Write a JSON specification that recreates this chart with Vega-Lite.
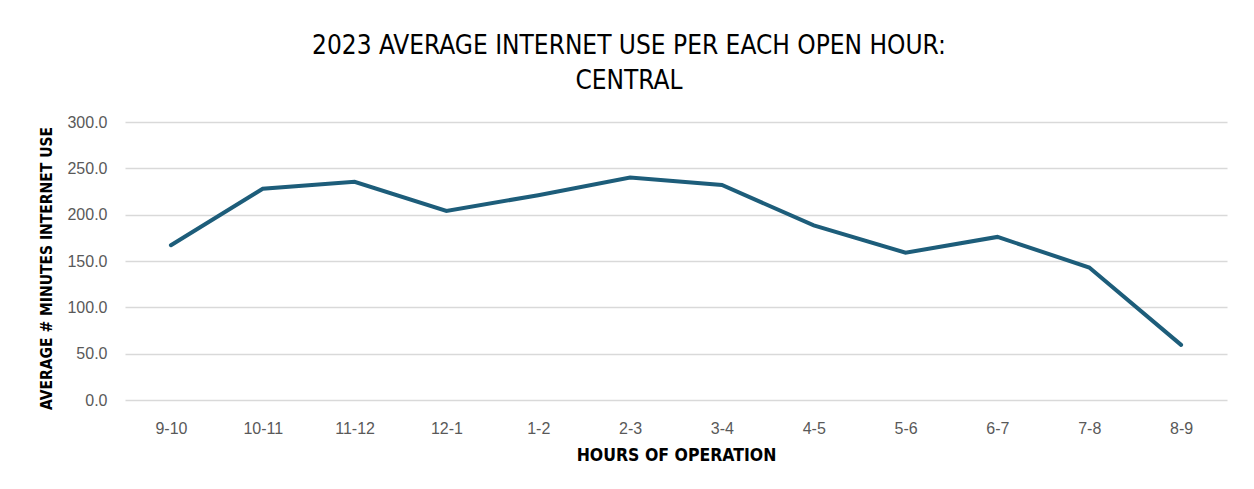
{
  "$schema": "https://vega.github.io/schema/vega-lite/v6.json",
  "width": 1102,
  "height": 278,
  "autosize": {"type": "none"},
  "padding": {"left": 125, "top": 122, "right": 27, "bottom": 89},
  "background": "white",
  "title": {
    "text": ["2023 AVERAGE INTERNET USE PER EACH OPEN HOUR:", "CENTRAL"],
    "font": "Liberation Sans Narrow, Arial Narrow, DejaVu Sans Condensed, sans-serif",
    "fontSize": 26,
    "fontWeight": "normal",
    "color": "#000000",
    "anchor": "middle",
    "dx": -47,
    "offset": 20,
    "lineHeight": 35
  },
  "data": {
    "values": [
      {"hour": "9-10", "minutes": 167},
      {"hour": "10-11", "minutes": 228},
      {"hour": "11-12", "minutes": 235.5},
      {"hour": "12-1", "minutes": 204},
      {"hour": "1-2", "minutes": 221},
      {"hour": "2-3", "minutes": 240},
      {"hour": "3-4", "minutes": 232},
      {"hour": "4-5", "minutes": 188.5},
      {"hour": "5-6", "minutes": 159},
      {"hour": "6-7", "minutes": 176},
      {"hour": "7-8", "minutes": 143},
      {"hour": "8-9", "minutes": 59.5}
    ]
  },
  "mark": {"type": "line", "color": "#1d5d7a", "strokeWidth": 4, "strokeCap": "round", "strokeJoin": "miter"},
  "encoding": {
    "x": {
      "field": "hour",
      "type": "ordinal",
      "sort": null,
      "scale": {"type": "point", "padding": 0.5},
      "axis": {
        "title": "HOURS OF OPERATION",
        "labelAngle": 0,
        "domain": false,
        "ticks": false,
        "grid": false,
        "labelPadding": 20,
        "labelFont": "Liberation Sans, Arial, sans-serif",
        "labelFontSize": 16,
        "labelColor": "#595959",
        "titleFont": "Liberation Sans Narrow, Arial Narrow, DejaVu Sans Condensed, sans-serif",
        "titleFontSize": 17.5,
        "titleFontWeight": "bold",
        "titleColor": "#000000",
        "titlePadding": 10
      }
    },
    "y": {
      "field": "minutes",
      "type": "quantitative",
      "scale": {"domain": [0, 300], "nice": false},
      "axis": {
        "title": "AVERAGE # MINUTES INTERNET USE",
        "values": [0, 50, 100, 150, 200, 250, 300],
        "format": ".1f",
        "domain": false,
        "ticks": false,
        "grid": true,
        "gridColor": "#d9d9d9",
        "gridWidth": 1.3,
        "labelPadding": 18,
        "labelFont": "Liberation Sans, Arial, sans-serif",
        "labelFontSize": 16,
        "labelColor": "#595959",
        "titleFont": "Liberation Sans Narrow, Arial Narrow, DejaVu Sans Condensed, sans-serif",
        "titleFontSize": 15.5,
        "titleFontWeight": "bold",
        "titleColor": "#000000",
        "titlePadding": 12,
        "titleY": 146
      }
    }
  },
  "config": {"view": {"stroke": null}}
}
